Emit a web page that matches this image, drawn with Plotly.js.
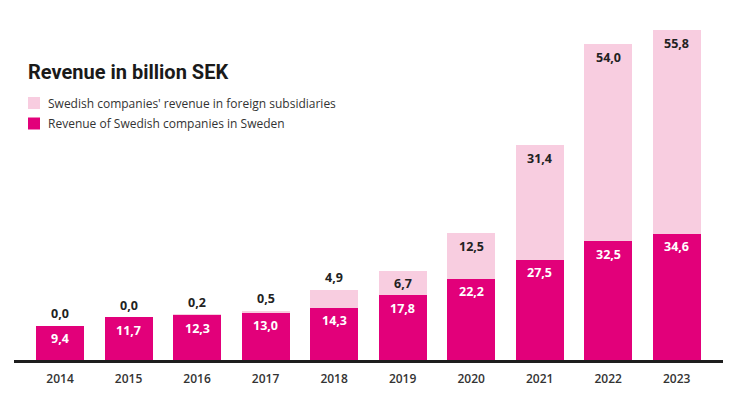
<!DOCTYPE html>
<html>
<head>
<meta charset="utf-8">
<script src="https://cdn.plot.ly/plotly-3.0.1.min.js"></script>
<style>html,body{margin:0;padding:0;background:#fff;}#chart{width:747px;height:394px;}</style>
</head>
<body>
<div id="chart"></div>
<script>
var years = ['2014','2015','2016','2017','2018','2019','2020','2021','2022','2023'];
var swedenRevenue = [9.4, 11.7, 12.3, 13.0, 14.3, 17.8, 22.2, 27.5, 32.5, 34.6];
var foreignRevenue = [0.0, 0.0, 0.2, 0.5, 4.9, 6.7, 12.5, 31.4, 54.0, 55.8];
var seriesNames = ["Swedish companies' revenue in foreign subsidiaries", 'Revenue of Swedish companies in Sweden'];
var chartTitle = 'Revenue in billion SEK';

var DARK = '#E2007A';
var LIGHT = '#F8CDE0';
function fmt(v){ return v.toFixed(1).replace('.', ','); }

var traces = [
  {type:'bar', x: years, y: swedenRevenue, name: seriesNames[1], marker:{color: DARK}, hoverinfo:'skip', showlegend:false},
  {type:'bar', x: years, y: foreignRevenue, name: seriesNames[0], marker:{color: LIGHT}, hoverinfo:'skip', showlegend:false}
];

var annotations = [];
var labelFont = {family:'Open Sans, sans-serif', size:12.5, weight:700};
for (var i = 0; i < years.length; i++) {
  // category index i on the category x axis
  annotations.push({x: i, y: swedenRevenue[i], xref:'x', yref:'y', text: fmt(swedenRevenue[i]),
    showarrow:false, yshift:-13, yanchor:'middle', xanchor:'center',
    font: Object.assign({}, labelFont, {color:'#ffffff'})});
  var total = swedenRevenue[i] + foreignRevenue[i];
  var inside = foreignRevenue[i] > 5.5;
  annotations.push({x: i, y: total, xref:'x', yref:'y', text: fmt(foreignRevenue[i]),
    showarrow:false, yshift: inside ? -13 : 12, yanchor:'middle', xanchor:'center',
    font: Object.assign({}, labelFont, {color:'#222222'})});
}
// legend texts
var legendFont = {family:'Open Sans, sans-serif', size:12, color:'#333333'};
annotations.push({xref:'paper', yref:'paper', x:0, y:1, xshift:32, yshift:-83, xanchor:'left', yanchor:'middle',
  text: seriesNames[0], showarrow:false, font: legendFont});
annotations.push({xref:'paper', yref:'paper', x:0, y:1, xshift:32, yshift:-103, xanchor:'left', yanchor:'middle',
  text: seriesNames[1], showarrow:false, font: legendFont});

var shapes = [
  {type:'rect', xref:'paper', yref:'paper', xsizemode:'pixel', ysizemode:'pixel', xanchor:0, yanchor:1,
   x0:14, x1:26, y0:-77, y1:-89, fillcolor: LIGHT, line:{width:0}},
  {type:'rect', xref:'paper', yref:'paper', xsizemode:'pixel', ysizemode:'pixel', xanchor:0, yanchor:1,
   x0:14, x1:26, y0:-97.5, y1:-109.5, fillcolor: DARK, line:{width:0}}
];

var layout = {
  width: 747, height: 394,
  margin: {l:14, r:24, t:20, b:34, pad:0},
  paper_bgcolor:'#ffffff', plot_bgcolor:'#ffffff',
  barmode:'stack', bargap:0.3,
  showlegend:false,
  title: {text: chartTitle, xref:'container', yref:'container', x: 28/747, xanchor:'left',
          y: 1 - 72/394, yanchor:'middle',
          font:{family:'Roboto, sans-serif', size:20, weight:700, color:'#1a1a1a'}},
  xaxis: {type:'category', range:[-0.672, 9.676], showline:true, linewidth:3, linecolor:'#1e1e1e',
          ticks:'', showgrid:false, zeroline:false, fixedrange:true, ticklabelstandoff:6,
          tickfont:{family:'Open Sans, sans-serif', size:12, weight:600, color:'#333333'}},
  yaxis: {range:[0, 93.15], visible:false, showgrid:false, zeroline:false, fixedrange:true},
  annotations: annotations,
  shapes: shapes
};

Plotly.newPlot('chart', traces, layout, {displayModeBar:false, staticPlot:true});
</script>
</body>
</html>
